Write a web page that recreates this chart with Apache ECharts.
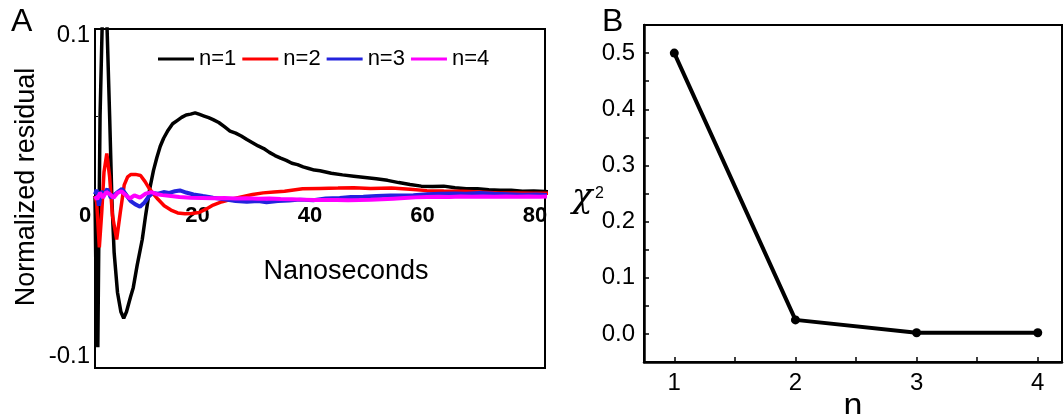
<!DOCTYPE html>
<html>
<head>
<meta charset="utf-8">
<script src="https://cdn.jsdelivr.net/npm/echarts@6/dist/echarts.min.js"></script>
<style>
html,body{margin:0;padding:0;background:#fff;}
#chart{width:1064px;height:414px;}
</style>
</head>
<body>
<div id="chart"></div>
<script>
// ---------- Panel A data: normalized residuals vs time (ns) ----------
const seriesNamesA = ['n=1', 'n=2', 'n=3', 'n=4'];
const xTickLabelsA = [0, 20, 40, 60, 80];
const yTickLabelsA = [-0.1, 0.1];

const residN1 = [
  [0,0],[0.2,-0.06],[0.5,-0.094],[0.7,-0.02],[0.9,0.05],[1.3,0.11],[1.7,0.13],[2.1,0.11],
  [2.6,0.05],[3.0,-0.002],[3.4,-0.035],[4.0,-0.06],[4.6,-0.072],[5.1,-0.076],[5.6,-0.072],
  [6.3,-0.063],[6.8,-0.057],[7.5,-0.043],[8.4,-0.027],[9.0,-0.012],[9.7,0.004],[10.4,0.016],
  [11.0,0.024],[11.6,0.031],[12.2,0.036],[13.0,0.041],[13.8,0.045],[14.6,0.047],[15.4,0.049],
  [16.2,0.0505],[17.0,0.051],[17.8,0.0518],[18.6,0.0508],[19.4,0.0498],[20.2,0.0488],[21,0.0476],
  [22,0.0458],[23,0.0432],[24,0.0405],[25,0.0392],[26,0.0374],[27,0.0352],[28,0.0332],[29,0.0312],
  [30,0.0296],[31,0.0272],[32,0.0252],[33,0.0236],[34,0.0222],[35,0.0204],[36,0.0196],[37,0.0182],
  [38,0.0172],[39,0.0162],[40,0.0158],[42,0.0142],[44,0.0132],[46,0.0124],[48,0.0116],[50,0.0108],
  [52,0.0098],[54,0.0084],[56,0.0072],[58,0.0062],[60,0.006],[62,0.0062],[64,0.0052],[66,0.0046],
  [68,0.0046],[70,0.004],[72,0.0036],[74,0.0036],[76,0.003],[78,0.0032],[80,0.0028],[81,0.0026]
];
const residN2 = [
  [0,0],[0.3,-0.004],[0.77,-0.032],[1.2,-0.01],[1.6,0.015],[2.1,0.0265],[2.6,0.012],[3.1,-0.012],
  [3.85,-0.027],[4.5,-0.01],[5.2,0.007],[5.8,0.012],[6.4,0.0135],[7.2,0.0135],[8.1,0.0128],[8.9,0.009],
  [9.6,0.005],[10.3,0.0017],[11.2,-0.002],[12.3,-0.006],[13.5,-0.0087],[14.7,-0.0105],[16,-0.011],
  [17.2,-0.0108],[18.5,-0.0102],[19.8,-0.008],[21,-0.0056],[22.6,-0.0035],[24.2,-0.002],[26,-0.0005],
  [28,0.001],[29.9,0.002],[31.8,0.0026],[33.7,0.003],[35.3,0.0038],[36.9,0.0045],[40,0.0048],
  [43.2,0.005],[46,0.0052],[49,0.0048],[52.7,0.005],[56,0.0042],[59,0.0034],[62,0.0032],[65.3,0.003],
  [68.5,0.0025],[71.6,0.002],[75,0.0019],[78,0.0018],[81,0.0017]
];
const residN3 = [
  [0,0.001],[0.3,0.004],[0.7,-0.006],[1.1,0.003],[1.6,0.001],[2.2,0.0045],[2.8,-0.001],[3.5,0.001],
  [4.2,0.003],[4.8,0.0045],[5.5,0.001],[6.3,-0.003],[7.1,-0.005],[8.0,-0.0066],[8.8,-0.004],[9.6,0],
  [10.3,0.002],[11.2,0.0015],[12.2,0.0025],[13.2,0.002],[14.2,0.003],[15.1,0.0035],[16.2,0.0022],
  [17.5,0.001],[19.2,0],[21,-0.001],[23,-0.002],[25,-0.003],[27,-0.0035],[29,-0.003],[30.5,-0.0038],
  [32.5,-0.003],[34.5,-0.0028],[36.5,-0.0022],[38.8,-0.0026],[41,-0.0015],[43.5,-0.0012],[45.5,-0.0006],
  [47.7,-0.0004],[50,0],[52.5,0.0003],[54.5,0.0004],[56.6,0.0006],[59,0.0012],[61.5,0.0015],[64,0.0016],
  [66,0.0014],[68.4,0.002],[71,0.0015],[73.5,0.0012],[76,0.0008],[78.5,0.001],[81,0.0006]
];
const residN4 = [
  [0,0],[0.4,-0.002],[0.9,0.002],[1.4,-0.001],[2.0,0.0025],[2.7,0.001],[3.3,-0.001],[4.0,0.002],
  [4.7,0.003],[5.5,0.0005],[6.2,-0.0015],[7.0,0.0005],[8.0,-0.001],[9.0,0.0015],[10.0,0.0025],[11,0.0012],
  [12,0.0006],[13.5,0],[15,-0.0006],[17,-0.001],[19,-0.0012],[21,-0.0014],[23,-0.0012],[25,-0.0015],
  [27,-0.0014],[29,-0.0016],[31,-0.0015],[33,-0.0018],[35,-0.002],[37,-0.0022],[39,-0.0024],[41,-0.0025],
  [43,-0.0024],[45,-0.0026],[47,-0.0025],[49,-0.0023],[51,-0.002],[53,-0.0016],[55,-0.0012],[57,-0.0008],
  [59,-0.0006],[61,-0.0004],[63,-0.0005],[65,-0.0003],[67,-0.0004],[69,-0.0002],[71,-0.0004],[73,-0.0003],
  [75,-0.0004],[77,-0.0002],[79,-0.0004],[81,-0.0003]
];

// ---------- Panel B data: chi-square vs n ----------
const nValuesB = [1, 2, 3, 4];
const chiSqB = [0.5, 0.025, 0.002, 0.002];
const yTickLabelsB = [0.0, 0.1, 0.2, 0.3, 0.4, 0.5];

const colorsA = ['#000000', '#ff0000', '#2323dd', '#ff00ff'];
const residAll = [residN1, residN2, residN3, residN4];
const FONT = 'Liberation Sans, Arial, sans-serif';

// Panel A layout
const gridA = {left: 95, top: 29, width: 450, height: 339};
const yMinA = -0.107, yMaxA = 0.104;
// x axis sits on the y = 0 line (moved up from the bottom edge by the axis offset)
const zeroOffsetA = -gridA.height * (0 - yMinA) / (yMaxA - yMinA);

const chart = echarts.init(document.getElementById('chart'), null, {renderer: 'canvas'});

const seriesA = seriesNamesA.map((name, i) => ({
  name: name,
  type: 'line',
  xAxisIndex: 0,
  yAxisIndex: 0,
  data: residAll[i],
  symbol: 'none',
  smooth: false,
  clip: true,
  lineStyle: {color: colorsA[i], width: i < 2 ? 3.5 : 4},
  itemStyle: {color: colorsA[i]},
  z: 2 + i
}));

const option = {
  animation: false,
  backgroundColor: '#ffffff',
  textStyle: {fontFamily: FONT, color: '#000'},
  grid: [
    Object.assign({show: true, borderColor: '#000', borderWidth: 2, backgroundColor: 'transparent', outerBoundsMode: 'none', containLabel: false}, gridA),
    {left: 644, top: 25, width: 418, height: 337, show: true, borderColor: '#000', borderWidth: 2, backgroundColor: 'transparent', outerBoundsMode: 'none', containLabel: false}
  ],
  legend: {
    data: seriesNamesA,
    left: 153,
    top: 43,
    icon: 'rect',
    itemWidth: 36,
    itemHeight: 3,
    itemGap: 6,
    textStyle: {fontSize: 22, fontFamily: FONT, color: '#000'}
  },
  xAxis: [
    {
      gridIndex: 0, type: 'value', min: 0, max: 80, position: 'bottom', offset: zeroOffsetA,
      axisLine: {show: true, onZero: false, lineStyle: {color: 'rgba(0,0,0,0)'}},
      axisTick: {show: false},
      splitLine: {show: false},
      axisLabel: {
        customValues: xTickLabelsA,
        fontSize: 22, fontWeight: 'bold', color: '#000', fontFamily: FONT,
        margin: 9, padding: [0, 20, 0, 0],
        formatter: v => String(v)
      },
      name: 'Nanoseconds', nameLocation: 'middle', nameGap: 62, nameMoveOverlap: false,
      nameTextStyle: {fontSize: 27, color: '#000', fontFamily: FONT, padding: [0, 0, 0, 52]}
    },
    {
      gridIndex: 1, type: 'value', min: 0.75, max: 4.2,
      axisLine: {show: true, onZero: false, lineStyle: {color: '#000', width: 2.5}},
      axisTick: {show: true, inside: true, length: 5, customValues: [1, 1.5, 2, 2.5, 3, 3.5, 4], lineStyle: {color: '#000', width: 1.5}},
      splitLine: {show: false},
      axisLabel: {customValues: nValuesB, fontSize: 24, color: '#000', fontFamily: FONT, margin: 9, formatter: v => String(v)},
      name: 'n', nameLocation: 'middle', nameGap: 28, nameMoveOverlap: false,
      nameTextStyle: {fontSize: 34, color: '#000', fontFamily: FONT}
    }
  ],
  yAxis: [
    {
      gridIndex: 0, type: 'value', min: yMinA, max: yMaxA,
      axisLine: {show: true, onZero: false, lineStyle: {color: '#000', width: 2}},
      axisTick: {show: true, inside: true, length: 3, customValues: [-0.05, 0.05], lineStyle: {color: '#000'}},
      splitLine: {show: false},
      axisLabel: {customValues: yTickLabelsA, fontSize: 24, color: '#000', fontFamily: FONT, margin: 5, formatter: v => v.toFixed(1)}
    },
    {
      gridIndex: 1, type: 'value', min: -0.05, max: 0.55,
      axisLine: {show: true, onZero: false, lineStyle: {color: '#000', width: 2.5}},
      axisTick: {show: true, inside: true, length: 5,
        customValues: [0, 0.05, 0.1, 0.15, 0.2, 0.25, 0.3, 0.35, 0.4, 0.45, 0.5], lineStyle: {color: '#000', width: 1.5}},
      splitLine: {show: false},
      axisLabel: {customValues: yTickLabelsB, fontSize: 24, color: '#000', fontFamily: FONT, margin: 9, formatter: v => v.toFixed(1)}
    }
  ],
  graphic: [
    {type: 'text', left: 11, top: 6, style: {text: 'A', fontSize: 32, fontFamily: FONT, fill: '#000'}},
    {type: 'text', left: 602, top: 6, style: {text: 'B', fontSize: 32, fontFamily: FONT, fill: '#000'}},
    {type: 'text', x: 27, y: 187, rotation: Math.PI / 2,
      style: {text: 'Normalized residual', fontSize: 27, fontFamily: FONT, fill: '#000', align: 'center', verticalAlign: 'middle'}},
    {type: 'text', left: 572, top: 181, style: {text: 'χ', fontSize: 34, fontFamily: 'DejaVu Serif, serif', fontStyle: 'italic', fill: '#000'}},
    {type: 'text', left: 595, top: 186, style: {text: '2', fontSize: 16, fontFamily: FONT, fill: '#000'}}
  ],
  series: seriesA.concat([
    {
      name: 'chi2',
      type: 'line',
      xAxisIndex: 1,
      yAxisIndex: 1,
      data: nValuesB.map((n, i) => [n, chiSqB[i]]),
      symbol: 'circle',
      symbolSize: 9,
      lineStyle: {color: '#000', width: 4},
      itemStyle: {color: '#000'},
      z: 3
    }
  ])
};

chart.setOption(option);
</script>
</body>
</html>
